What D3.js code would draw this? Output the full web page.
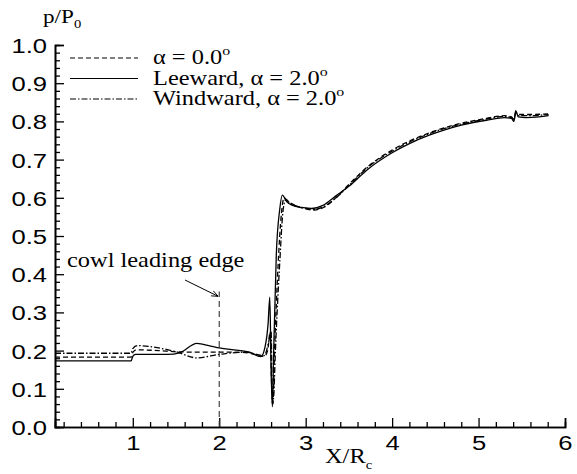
<!DOCTYPE html>
<html>
<head>
<meta charset="utf-8">
<script src="https://cdn.jsdelivr.net/npm/d3@7"></script>
<style>
  body { margin: 0; background: #fff; }
  .tick-label { font-family: "Liberation Sans", Arial, sans-serif; fill: #000; }
  .serif { font-family: "Liberation Serif", "Times New Roman", serif; fill: #000; }
</style>
</head>
<body>
<svg id="chart" width="577" height="474"></svg>
<script>
'use strict';

// axis ticks
var xMajor = [1, 2, 3, 4, 5, 6];
var yMajor = [0.0, 0.1, 0.2, 0.3, 0.4, 0.5, 0.6, 0.7, 0.8, 0.9, 1.0];

// Leeward, alpha = 2.0 (solid)
var leeX = [0.1, 0.98, 1.0, 1.03, 1.2, 1.4, 1.55, 1.74, 1.9, 2.0, 2.2, 2.35, 2.48, 2.53, 2.565, 2.585, 2.6, 2.615, 2.63, 2.66, 2.7, 2.73, 2.78, 2.85, 2.95, 3.07, 3.2, 3.35, 3.5, 3.72, 4.0, 4.2, 4.43, 4.6, 4.8, 5.09, 5.3, 5.38, 5.41, 5.43, 5.46, 5.55, 5.7, 5.81];
var leeP = [0.173, 0.173, 0.185, 0.19, 0.19, 0.19, 0.195, 0.219, 0.212, 0.207, 0.201, 0.196, 0.184, 0.21, 0.27, 0.34, 0.15, 0.053, 0.2, 0.45, 0.57, 0.607, 0.59, 0.58, 0.575, 0.572, 0.58, 0.605, 0.63, 0.675, 0.718, 0.742, 0.764, 0.777, 0.79, 0.803, 0.81, 0.808, 0.8, 0.828, 0.812, 0.81, 0.812, 0.815];

// alpha = 0.0 (dashed)
var zeroX = [0.1, 0.98, 1.0, 1.04, 1.3, 1.5, 1.75, 2.0, 2.3, 2.52, 2.56, 2.59, 2.605, 2.62, 2.64, 2.68, 2.72, 2.75, 2.8, 2.9, 3.1, 3.2, 3.35, 3.5, 3.72, 4.0, 4.43, 4.8, 5.09, 5.3, 5.38, 5.41, 5.43, 5.46, 5.6, 5.81];
var zeroP = [0.183, 0.183, 0.195, 0.202, 0.2, 0.197, 0.196, 0.196, 0.195, 0.185, 0.2, 0.25, 0.12, 0.06, 0.2, 0.42, 0.56, 0.6, 0.59, 0.578, 0.568, 0.574, 0.6, 0.635, 0.682, 0.725, 0.77, 0.795, 0.808, 0.815, 0.812, 0.805, 0.822, 0.818, 0.818, 0.82];

// Windward, alpha = 2.0 (dash-dot)
var windX = [0.1, 0.98, 1.0, 1.05, 1.3, 1.5, 1.74, 2.0, 2.3, 2.52, 2.57, 2.6, 2.615, 2.63, 2.65, 2.7, 2.74, 2.77, 2.82, 2.95, 3.1, 3.2, 3.35, 3.5, 3.72, 4.0, 4.43, 4.8, 5.09, 5.3, 5.38, 5.41, 5.43, 5.46, 5.6, 5.81];
var windP = [0.193, 0.193, 0.205, 0.213, 0.207, 0.197, 0.181, 0.19, 0.196, 0.187, 0.22, 0.25, 0.06, 0.08, 0.2, 0.43, 0.57, 0.595, 0.585, 0.575, 0.57, 0.576, 0.6, 0.632, 0.68, 0.722, 0.768, 0.793, 0.806, 0.813, 0.81, 0.803, 0.825, 0.815, 0.815, 0.818];

// cowl leading edge marker
var cowlX = 2.0;
var cowlTop = 0.355;

// the original figure's lettering is drawn a bit wide
var STRETCH = 1.22;

var svg = d3.select("#chart");

var x = d3.scaleLinear().domain([0.1, 6]).range([55, 565]);
var y = d3.scaleLinear().domain([0, 1]).range([427, 45]);

function wideText(parent, tx, ty, size, cls) {
  return parent.append("text").attr("class", cls)
    .attr("font-size", size)
    .attr("transform", "translate(" + tx + "," + ty + ") scale(" + STRETCH + ",1)");
}

//
// axes (ticks pointing inward)
//
var xAxis = d3.axisBottom(x).tickValues(xMajor).tickSize(-9).tickFormat(d3.format("d"));
var xMinor = d3.axisBottom(x).tickValues(d3.range(0.2, 6.0001, 0.2).filter(v => Math.abs(v - Math.round(v)) > 1e-6)).tickSize(-5).tickFormat("");
var yAxis = d3.axisLeft(y).tickValues(yMajor).tickSize(-9).tickFormat(d3.format(".1f"));
var yMinor = d3.axisLeft(y).tickValues(d3.range(0.02, 1.0, 0.02).filter(v => Math.abs(v * 10 - Math.round(v * 10)) > 1e-6)).tickSize(-5).tickFormat("");

function styleAxis(g) {
  g.attr("font-size", null).attr("font-family", null);
  g.select(".domain").attr("stroke", "#000").attr("stroke-width", 1.6);
  g.selectAll(".tick line").attr("stroke", "#000").attr("stroke-width", 1.3);
  g.selectAll(".tick text").attr("class", "tick-label").style("font-size", "21px");
}

svg.append("g").attr("transform", "translate(0,427)").call(xMinor).call(styleAxis);
svg.append("g").attr("transform", "translate(0,427)").call(xAxis).call(styleAxis)
  .selectAll(".tick text")
  .attr("y", 0).attr("dy", null)
  .attr("transform", "translate(0,23) scale(" + STRETCH + ",1)");
svg.append("g").attr("transform", "translate(55,0)").call(yMinor).call(styleAxis);
svg.append("g").attr("transform", "translate(55,0)").call(yAxis).call(styleAxis)
  .selectAll(".tick text")
  .attr("x", 0).attr("dy", "0.36em")
  .attr("transform", "translate(-8,0) scale(" + STRETCH + ",1)");

//
// curves
//
var line = d3.line().x(d => x(d[0])).y(d => y(d[1])).curve(d3.curveMonotoneX);

var series = [
  { xs: zeroX, ps: zeroP, dash: "5,3" },
  { xs: windX, ps: windP, dash: "6,2,1.5,2" },
  { xs: leeX, ps: leeP, dash: null }
];

series.forEach(s => {
  svg.append("path")
    .datum(d3.zip(s.xs, s.ps))
    .attr("d", line)
    .attr("fill", "none")
    .attr("stroke", "#000")
    .attr("stroke-width", 1.3)
    .attr("stroke-dasharray", s.dash);
});

//
// cowl leading edge annotation
//
svg.append("line")
  .attr("x1", x(cowlX)).attr("x2", x(cowlX))
  .attr("y1", y(0)).attr("y2", y(cowlTop))
  .attr("stroke", "#333").attr("stroke-width", 1.1)
  .attr("stroke-dasharray", "6,4");

svg.append("defs").append("marker")
  .attr("id", "arrow").attr("viewBox", "0 0 10 10")
  .attr("refX", 10).attr("refY", 5)
  .attr("markerWidth", 7).attr("markerHeight", 7)
  .attr("orient", "auto")
  .append("path").attr("d", "M0,1L10,5L0,9").attr("fill", "none").attr("stroke", "#000").attr("stroke-width", 1.2);

svg.append("line")
  .attr("x1", 185).attr("y1", 280)
  .attr("x2", x(cowlX) - 1).attr("y2", y(cowlTop) + 5)
  .attr("stroke", "#000").attr("stroke-width", 1)
  .attr("marker-end", "url(#arrow)");

wideText(svg, 67, 267, 20, "serif").text("cowl leading edge");

//
// legend
//
var legendRows = [
  { dash: "5,3", label: "α = 0.0" },
  { dash: null, label: "Leeward, α = 2.0" },
  { dash: "6,2,1.5,2", label: "Windward, α = 2.0" }
];

legendRows.forEach((r, i) => {
  var ly = 58 + i * 20.5;
  svg.append("line")
    .attr("x1", 70).attr("x2", 138).attr("y1", ly).attr("y2", ly)
    .attr("stroke", "#000").attr("stroke-width", 1.2)
    .attr("stroke-dasharray", r.dash);
  var t = wideText(svg, 153, ly + 6, 20, "serif");
  t.append("tspan").text(r.label);
  t.append("tspan").attr("font-size", 13).attr("dy", -9).text("o");
});

//
// axis titles
//
var yt = wideText(svg, 43, 23, 19, "serif");
yt.append("tspan").text("p/P");
yt.append("tspan").attr("font-size", 12).attr("dy", 5).text("0");

var xt = wideText(svg, 325, 463, 20, "serif");
xt.append("tspan").text("X/R");
xt.append("tspan").attr("font-size", 12).attr("dy", 6).text("c");
</script>
</body>
</html>
